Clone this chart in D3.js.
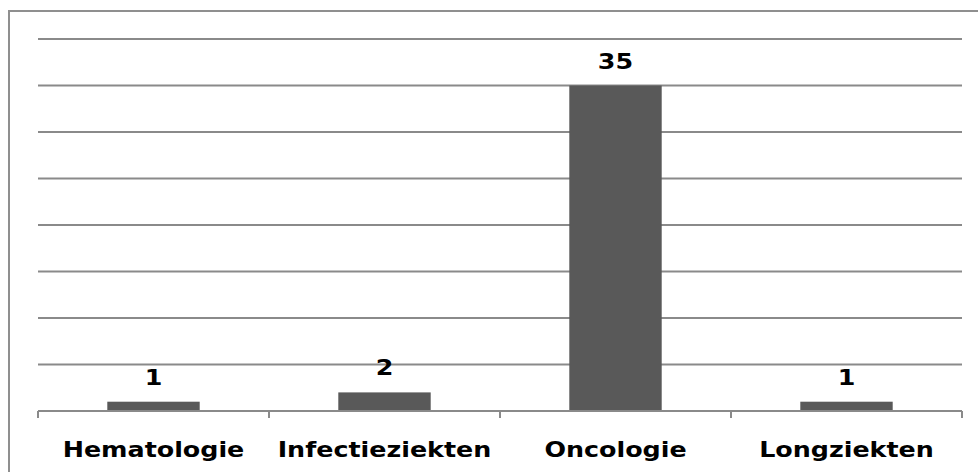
<!DOCTYPE html>
<html>
<head>
<meta charset="utf-8">
<script src="https://cdn.jsdelivr.net/npm/d3@7"></script>
<style>
  body { margin: 0; background: #fff; }
  svg text { font-family: 'DejaVu Sans', Verdana, sans-serif; font-weight: bold; fill: #000; }
</style>
</head>
<body>
<svg id="chart" width="978" height="472"></svg>
<script>
const categories = ['Hematologie', 'Infectieziekten', 'Oncologie', 'Longziekten']
const values = [1, 2, 35, 1]
const yTicks = [0, 5, 10, 15, 20, 25, 30, 35, 40]

const svg = d3.select('#chart')

const margin = { top: 39, right: 16, bottom: 61, left: 38 }
const width = 978 - margin.left - margin.right
const height = 472 - margin.top - margin.bottom

// outer frame, runs off the right and bottom edge
svg.append('rect')
  .attr('x', 9).attr('y', 11)
  .attr('width', 1000).attr('height', 500)
  .attr('fill', 'none')
  .attr('stroke', '#8f8f8f')
  .attr('stroke-width', 2)

const x = d3.scaleBand()
  .domain(categories)
  .range([0, width])
  .paddingInner(0.6)
  .paddingOuter(0.3)

const y = d3.scaleLinear()
  .domain([0, 40])
  .range([height, 0])

const g = svg.append('g')
  .attr('transform', 'translate(' + margin.left + ',' + margin.top + ')')

g.selectAll('.grid')
  .data(yTicks.slice(1))
  .enter().append('line')
  .attr('class', 'grid')
  .attr('x1', 0).attr('x2', width)
  .attr('y1', d => y(d)).attr('y2', d => y(d))
  .attr('stroke', '#8a8a8a')
  .attr('stroke-width', 2)

g.selectAll('.bar')
  .data(values)
  .enter().append('rect')
  .attr('class', 'bar')
  .attr('x', (d, i) => x(categories[i]))
  .attr('width', x.bandwidth())
  .attr('y', d => y(d))
  .attr('height', d => height - y(d))
  .attr('fill', '#595959')

// category axis with ticks between categories
const step = x.step()
const axis = g.append('g')
  .attr('transform', 'translate(0,' + height + ')')
axis.append('line')
  .attr('x1', 0).attr('x2', width)
  .attr('stroke', '#8a8a8a').attr('stroke-width', 2)
axis.selectAll('.tick')
  .data(d3.range(categories.length + 1))
  .enter().append('line')
  .attr('class', 'tick')
  .attr('x1', i => i * step).attr('x2', i => i * step)
  .attr('y1', 0).attr('y2', 7)
  .attr('stroke', '#8a8a8a').attr('stroke-width', 2)

axis.selectAll('.cat')
  .data(categories)
  .enter().append('text')
  .attr('class', 'cat')
  .attr('transform', d => 'translate(' + (x(d) + x.bandwidth() / 2) + ',45.5) scale(1.18,1)')
  .attr('text-anchor', 'middle')
  .style('font-size', '21.5px')
  .text(d => d)

g.selectAll('.val')
  .data(values)
  .enter().append('text')
  .attr('class', 'val')
  .attr('transform', (d, i) => 'translate(' + (x(categories[i]) + x.bandwidth() / 2) + ',' + (y(d) - 17) + ') scale(1.18,1)')
  .attr('text-anchor', 'middle')
  .style('font-size', '21.5px')
  .text(d => d)
</script>
</body>
</html>
